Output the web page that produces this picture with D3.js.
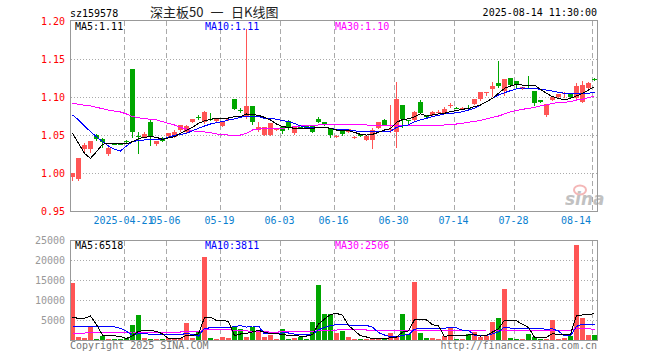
<!DOCTYPE html>
<html><head><meta charset="utf-8">
<script src="https://cdn.jsdelivr.net/npm/d3@7"></script>
<style>body{margin:0;background:#fff}svg{display:block}</style>
</head><body><svg id="c" width="660" height="360"></svg>
<script>
const dates = ["2025-04-09","2025-04-10","2025-04-11","2025-04-14","2025-04-15","2025-04-16","2025-04-17","2025-04-18","2025-04-21","2025-04-22","2025-04-23","2025-04-24","2025-04-25","2025-04-28","2025-04-29","2025-04-30",
"2025-05-06","2025-05-07","2025-05-08","2025-05-09","2025-05-12","2025-05-13","2025-05-14","2025-05-15","2025-05-16","2025-05-19","2025-05-20","2025-05-21","2025-05-22","2025-05-23","2025-05-26","2025-05-27","2025-05-28","2025-05-29","2025-05-30",
"2025-06-03","2025-06-04","2025-06-05","2025-06-06","2025-06-09","2025-06-10","2025-06-11","2025-06-12","2025-06-13","2025-06-16","2025-06-17","2025-06-18","2025-06-19","2025-06-20","2025-06-23","2025-06-24","2025-06-25","2025-06-26","2025-06-27","2025-06-30",
"2025-07-01","2025-07-02","2025-07-03","2025-07-04","2025-07-07","2025-07-08","2025-07-09","2025-07-10","2025-07-11","2025-07-14","2025-07-15","2025-07-16","2025-07-17","2025-07-18","2025-07-21","2025-07-22","2025-07-23","2025-07-24","2025-07-25","2025-07-28","2025-07-29","2025-07-30","2025-07-31",
"2025-08-01","2025-08-04","2025-08-05","2025-08-06","2025-08-07","2025-08-08","2025-08-11","2025-08-12","2025-08-13","2025-08-14"];

const open = [0.9956,0.9925,1.0316,1.0325,1.0500,1.0452,1.0254,1.0392,1.0390,1.0420,
1.1373,1.0495,1.0482,1.0680,1.0382,1.0470,1.0496,1.0482,1.0570,1.0548,
1.0675,1.0740,1.0680,1.0718,1.0689,1.0623,1.0702,1.0978,1.0835,1.0737,
1.0886,1.0570,1.0504,1.0504,1.0570,1.0605,1.0684,1.0535,1.0607,1.0623,
1.0623,1.0719,1.0675,1.0579,1.0494,1.0561,1.0544,1.0476,1.0513,1.0445,
1.0439,1.0601,1.0702,1.0580,1.0548,1.0899,1.0700,1.0702,1.0934,1.0768,
1.0763,1.0809,1.0798,1.0897,1.0866,1.0862,1.0866,1.0912,1.0974,1.1053,
1.1110,1.1189,1.1088,1.1254,1.1215,1.1110,1.1164,1.1083,1.0961,1.0768,
1.0965,1.1000,1.1051,1.1044,1.0996,1.0943,1.1127,1.1240];
const high = [1.0000,1.0202,1.0395,1.0425,1.0513,1.0460,1.0350,1.0400,1.0400,1.0439,
1.1373,1.0548,1.0540,1.0702,1.0430,1.0480,1.0530,1.0570,1.0640,1.0630,
1.0720,1.0763,1.0825,1.0794,1.0730,1.0680,1.0720,1.0980,1.0855,1.1899,
1.0886,1.0680,1.0615,1.0667,1.0600,1.0610,1.0702,1.0610,1.0615,1.0630,
1.0630,1.0746,1.0680,1.0580,1.0504,1.0566,1.0585,1.0490,1.0520,1.0510,
1.0595,1.0680,1.0710,1.0899,1.1200,1.0900,1.0702,1.0820,1.0965,1.0770,
1.0820,1.0833,1.0877,1.0930,1.0868,1.0868,1.0895,1.0980,1.1075,1.1070,
1.1206,1.1482,1.1245,1.1260,1.1220,1.1140,1.1281,1.1083,1.0965,1.0910,
1.1010,1.1050,1.1075,1.1050,1.1193,1.1215,1.1197,1.1250];
const low = [0.9912,0.9912,1.0298,1.0285,1.0439,1.0340,1.0241,1.0380,1.0382,1.0395,
1.0482,1.0263,1.0474,1.0373,1.0370,1.0425,1.0490,1.0480,1.0560,1.0540,
1.0670,1.0710,1.0667,1.0702,1.0680,1.0620,1.0700,1.0840,1.0811,1.0724,
1.0645,1.0560,1.0500,1.0500,1.0565,1.0526,1.0579,1.0522,1.0595,1.0595,
1.0540,1.0675,1.0640,1.0474,1.0482,1.0510,1.0540,1.0465,1.0490,1.0440,
1.0338,1.0600,1.0630,1.0548,1.0351,1.0605,1.0649,1.0700,1.0790,1.0730,
1.0760,1.0790,1.0790,1.0877,1.0860,1.0860,1.0855,1.0910,1.0960,1.1031,
1.1018,1.1140,1.1031,1.1160,1.1140,1.1105,1.1140,1.0899,1.0940,1.0754,
1.0960,1.0995,1.1009,1.1000,1.0987,1.0934,1.1120,1.1224];
const close = [1.0000,1.0202,1.0373,1.0425,1.0447,1.0417,1.0338,1.0390,1.0388,1.0415,
1.0540,1.0490,1.0522,1.0474,1.0425,1.0430,1.0526,1.0548,1.0636,1.0623,
1.0715,1.0737,1.0811,1.0715,1.0719,1.0671,1.0715,1.0846,1.0833,1.0886,
1.0680,1.0605,1.0605,1.0658,1.0596,1.0561,1.0605,1.0605,1.0603,1.0601,
1.0544,1.0680,1.0649,1.0504,1.0496,1.0518,1.0579,1.0478,1.0496,1.0497,
1.0575,1.0675,1.0636,1.0582,1.0974,1.0710,1.0697,1.0805,1.0798,1.0737,
1.0805,1.0811,1.0846,1.0899,1.0864,1.0866,1.0862,1.0978,1.1070,1.1066,
1.1149,1.1149,1.1241,1.1162,1.1162,1.1136,1.1160,1.0921,1.0943,1.0908,
1.1009,1.1044,1.1053,1.1009,1.1149,1.1162,1.1184,1.1237];
const volume = [14333,833,583,3333,250,1000,333,250,250,583,
3750,6250,583,250,250,250,417,417,417,4250,
583,2083,20833,583,333,833,417,3167,2750,833,
3167,2083,833,1250,333,2750,333,583,667,250,
4500,13750,6583,6583,1833,2250,750,250,250,250,
250,250,417,1833,833,6583,1583,14583,1833,583,
583,250,1083,3250,250,250,1583,2000,833,1000,
4583,5583,12833,583,333,333,1500,833,333,333,
5000,333,583,1000,23833,5583,1333,1333];

const ma5 = [1.0526,1.0395,1.0263,1.0197,1.0285,1.0382,1.0395,1.0395,1.0395,1.0386,
1.0417,1.0456,1.0474,1.0482,1.0474,1.0447,1.0465,1.0482,1.0526,1.0566,
1.0605,1.0658,1.0689,1.0711,1.0728,1.0728,1.0728,1.0746,1.0746,1.0781,
1.0776,1.0763,1.0737,1.0702,1.0649,1.0614,1.0605,1.0592,1.0592,1.0592,
1.0592,1.0605,1.0605,1.0592,1.0570,1.0570,1.0561,1.0539,1.0513,1.0504,
1.0513,1.0539,1.0570,1.0588,1.0670,1.0708,1.0717,1.0745,1.0785,1.0752,
1.0768,1.0781,1.0790,1.0811,1.0825,1.0842,1.0855,1.0877,1.0899,1.0943,
1.0987,1.1053,1.1118,1.1149,1.1171,1.1162,1.1162,1.1162,1.1105,1.1053,
1.1009,1.0987,1.0965,1.0987,1.1018,1.1053,1.1096,1.1140];
const ma10 = [1.0768,1.0702,1.0623,1.0548,1.0482,1.0417,1.0360,1.0316,1.0294,1.0360,
1.0417,1.0430,1.0439,1.0439,1.0439,1.0447,1.0474,1.0500,1.0513,1.0526,
1.0561,1.0592,1.0623,1.0649,1.0667,1.0680,1.0702,1.0715,1.0737,1.0754,
1.0754,1.0750,1.0724,1.0724,1.0711,1.0693,1.0680,1.0658,1.0623,1.0605,
1.0605,1.0605,1.0605,1.0588,1.0579,1.0575,1.0570,1.0561,1.0544,1.0544,
1.0544,1.0544,1.0548,1.0553,1.0605,1.0623,1.0636,1.0680,1.0702,1.0724,
1.0746,1.0763,1.0781,1.0789,1.0798,1.0811,1.0833,1.0855,1.0899,1.0943,
1.0987,1.1031,1.1061,1.1088,1.1110,1.1123,1.1118,1.1118,1.1105,1.1096,
1.1083,1.1066,1.1053,1.1044,1.1044,1.1044,1.1053,1.1066];
const ma30 = [1.0921,1.0908,1.0895,1.0886,1.0868,1.0851,1.0833,1.0820,1.0807,1.0781,
1.0746,1.0732,1.0719,1.0711,1.0702,1.0680,1.0658,1.0636,1.0605,1.0579,
1.0561,1.0548,1.0544,1.0535,1.0518,1.0509,1.0504,1.0504,1.0504,1.0526,
1.0570,1.0583,1.0588,1.0592,1.0592,1.0592,1.0601,1.0614,1.0623,1.0623,
1.0632,1.0636,1.0640,1.0640,1.0640,1.0640,1.0640,1.0640,1.0636,1.0636,
1.0632,1.0632,1.0623,1.0623,1.0627,1.0632,1.0632,1.0627,1.0623,1.0623,
1.0627,1.0632,1.0636,1.0640,1.0649,1.0658,1.0671,1.0684,1.0697,1.0715,
1.0737,1.0754,1.0781,1.0811,1.0825,1.0842,1.0855,1.0868,1.0886,1.0899,
1.0921,1.0930,1.0934,1.0943,1.0965,1.0974,1.0996,1.1018];

const vma5 = [5667,5417,5417,6000,3866,1200,1100,1033,900,400,
1033,2217,2283,2283,2217,1517,350,350,400,1150,
1150,1550,5616,5666,4883,4933,4600,1067,1500,1600,
2067,2400,1933,1633,1533,1450,1100,1050,983,983,
1350,4000,5217,6350,6650,6200,3600,2333,1067,750,
350,250,283,600,717,1983,2250,5083,5083,5017,
3833,3567,867,1150,1083,1017,1283,1467,983,1133,
1983,2800,4966,4916,4783,3933,3116,716,666,666,
1600,1366,1316,1450,6150,6266,6466,6518];
const vma10 = [3500,3500,3480,3450,3450,3400,3400,3300,2900,2200,
1117,1658,1658,1350,1350,1275,1283,1300,1317,1683,
1367,950,2975,3008,3017,3075,3075,3350,3583,3241,
3500,3500,1500,1567,1567,1758,1750,1492,1300,1250,
1391,2558,3125,3650,3800,3758,3750,3700,3650,3650,
3200,1850,1250,850,780,1200,1300,2700,2850,2880,
2900,2900,2960,3100,3050,2420,2420,1170,1080,1130,
1530,2050,3233,2958,2958,2958,2958,2841,2791,2725,
2766,2241,1016,1058,3408,3933,3916,3811];
const vma30 = [1700,1700,1720,1900,1900,1900,1910,1910,1920,1920,
2000,2000,2000,2000,2000,2000,2000,2000,2000,2050,
2050,2050,2600,2620,2620,2620,2600,2400,2350,2367,
1994,2036,2044,1975,1978,2036,2036,2047,2067,2058,
2086,2336,2450,2500,2500,2520,2520,2520,2510,2500,
2500,2480,2300,2300,2300,2350,2350,2450,2450,2450,
2430,2420,2420,2450,2450,2420,2450,2480,2480,2500,
2500,2420,2500,2450,2420,2400,2400,2400,2400,2400,
2450,2450,2450,2450,2900,2880,2880,2506];

const priceTicks = [0.95,1.00,1.05,1.10,1.15,1.20];
const volTicks = [5000,10000,15000,20000,25000];
const tickDates = ["2025-04-22","2025-05-06","2025-05-19","2025-06-03","2025-06-16","2025-06-30","2025-07-14","2025-07-28","2025-08-14"];
const tickLabels = ["2025-04-21","05-06","05-19","06-03","06-16","06-30","07-14","07-28","08-14"];
const titleParts = ["深主板50","一","日K线图"];

const MONO = "'DejaVu Sans Mono','Liberation Mono',monospace";
const CJK = "'Noto Sans CJK SC',sans-serif";
const RED = "#ff5555", GREEN = "#00a600";
const svg = d3.select("#c");
svg.append("rect").attr("width",660).attr("height",360).attr("fill","#fff");

const L = 70, R = 597, T1 = 20, B1 = 211, T2 = 240, B2 = 340;
const x = d3.scaleBand().domain(dates).range([L, L + 6*dates.length]).padding(0);
const y = d3.scaleLinear().domain([0.95,1.20]).range([211.33, 21.33]);
const yv = d3.scaleLinear().domain([0,25000]).range([B2, T2]);
const cx = d => x(d) + 2.5;
const bw = x.bandwidth() - 1;

const defs = svg.append("defs");
defs.append("clipPath").attr("id","c1").append("rect").attr("x",L).attr("y",T1).attr("width",R-L).attr("height",B1-T1);
defs.append("clipPath").attr("id","c2").append("rect").attr("x",L).attr("y",T2).attr("width",R-L).attr("height",B2-T2);

// header
svg.append("text").attr("x",70).attr("y",17).attr("font-family",MONO).attr("font-size",10).attr("fill","#000").text("sz159578");
[[150,titleParts[0]],[210.5,titleParts[1]],[231,titleParts[2]]].forEach(([xx,t])=>
  svg.append("text").attr("x",xx).attr("y",17).attr("font-family",CJK).attr("font-size",13).attr("fill","#222").text(t));
svg.append("text").attr("x",597).attr("y",16).attr("text-anchor","end").attr("font-family",MONO).attr("font-size",10).attr("fill","#000").text("2025-08-14 11:30:00");

// grids
const g = svg.append("g").attr("shape-rendering","crispEdges");
g.selectAll(".hg").data(priceTicks.filter(v=>v>0.95 && v<1.20)).join("line")
  .attr("x1",L+1).attr("x2",R).attr("y1",v=>Math.round(y(v))+0.5).attr("y2",v=>Math.round(y(v))+0.5)
  .attr("stroke","#aaa").attr("stroke-dasharray","1,2");
g.selectAll(".vg").data(volTicks.filter(v=>v<25000)).join("line")
  .attr("x1",L+1).attr("x2",R).attr("y1",v=>Math.round(yv(v))+0.5).attr("y2",v=>Math.round(yv(v))+0.5)
  .attr("stroke","#aaa").attr("stroke-dasharray","1,2");
tickDates.forEach(d=>{
  const xx = x(d)+0.5;
  g.append("line").attr("x1",xx).attr("x2",xx).attr("y1",T1+1).attr("y2",B1).attr("stroke","#aaa").attr("stroke-dasharray","5,3");
  g.append("line").attr("x1",xx).attr("x2",xx).attr("y1",T2+1).attr("y2",B2).attr("stroke","#aaa").attr("stroke-dasharray","5,3");
});

// y labels
svg.selectAll(".pl").data(priceTicks).join("text")
  .attr("x",65).attr("y",v=>y(v)).attr("dy","0.35em").attr("text-anchor","end")
  .attr("font-family",MONO).attr("font-size",10).attr("fill","#f00").text(d3.format(".2f"));
svg.selectAll(".vl").data(volTicks).join("text")
  .attr("x",65).attr("y",v=>yv(v)).attr("dy","0.35em").attr("text-anchor","end")
  .attr("font-family",MONO).attr("font-size",10).attr("fill","#999").text(d=>d);

// x labels
tickDates.forEach((d,i)=>{
  const last = i===tickDates.length-1;
  svg.append("text").attr("x", last ? x(d)-1 : x(d)-0.5).attr("y",224)
    .attr("text-anchor", last ? "end" : "middle")
    .attr("font-family",MONO).attr("font-size",10).attr("fill","#0b7fd0").text(tickLabels[i]);
});

// watermark
const wm = svg.append("g").attr("opacity",0.6);
wm.append("ellipse").attr("cx",580).attr("cy",190).attr("rx",6).attr("ry",4.5).attr("fill","none").attr("stroke","#e88").attr("stroke-width",2);
wm.append("text").attr("x",565).attr("y",205).attr("font-family","'DejaVu Sans',sans-serif").attr("font-style","italic").attr("font-weight","bold").attr("font-size",17).attr("fill","#999").text("sina");

// candles
const cg = svg.append("g").attr("clip-path","url(#c1)").attr("shape-rendering","crispEdges");
dates.forEach((d,i)=>{
  const up = close[i] >= open[i];
  const col = up ? RED : GREEN;
  cg.append("line").attr("x1",cx(d)).attr("x2",cx(d))
    .attr("y1",Math.round(y(high[i]))).attr("y2",Math.round(y(low[i]))+1).attr("stroke",col);
  const yt = Math.round(y(Math.max(open[i],close[i])));
  const yb = Math.round(y(Math.min(open[i],close[i])));
  cg.append("rect").attr("x",x(d)).attr("y",yt).attr("width",bw).attr("height",Math.max(1,yb-yt)).attr("fill",col);
});

// volume bars
const vg = svg.append("g").attr("clip-path","url(#c2)").attr("shape-rendering","crispEdges");
vg.selectAll("rect").data(dates).join("rect")
  .attr("x",d=>x(d)).attr("width",bw)
  .attr("y",(d,i)=>Math.round(yv(volume[i])))
  .attr("height",(d,i)=>B2-Math.round(yv(volume[i])))
  .attr("fill",(d,i)=> close[i]>=open[i] ? RED : GREEN);

// MA lines
const lineP = d3.line().x((v,i)=>cx(dates[i])).y(v=>y(v));
const lineV = d3.line().x((v,i)=>cx(dates[i])).y(v=>yv(v));
const mg = svg.append("g").attr("clip-path","url(#c1)").attr("fill","none").attr("shape-rendering","crispEdges");
[[ma30,"#ff00ff"],[ma10,"#0000ff"],[ma5,"#000"]].forEach(([a,c])=>mg.append("path").attr("d",lineP(a)).attr("stroke",c).attr("stroke-width",1));
const mg2 = svg.append("g").attr("clip-path","url(#c2)").attr("fill","none").attr("shape-rendering","crispEdges");
[[vma30,"#ff00ff"],[vma10,"#0000ff"],[vma5,"#000"]].forEach(([a,c])=>mg2.append("path").attr("d",lineV(a)).attr("stroke",c).attr("stroke-width",1));

// frames
const fg = svg.append("g").attr("shape-rendering","crispEdges").attr("fill","none").attr("stroke","#999");
fg.append("rect").attr("x",L+0.5).attr("y",T1+0.5).attr("width",R-L).attr("height",B1-T1);
fg.append("rect").attr("x",L+0.5).attr("y",T2+0.5).attr("width",R-L).attr("height",B2-T2);

// MA labels
const n = dates.length-1;
const f2 = d3.format(".2f");
const lab = (xx,yy,txt,c)=>svg.append("text").attr("x",xx).attr("y",yy).attr("font-family",MONO).attr("font-size",10).attr("fill",c).text(txt);
lab(75,30,"MA5:"+f2(ma5[n]),"#000");
lab(205,30,"MA10:"+f2(ma10[n]),"#0000ff");
lab(335,30,"MA30:"+f2(ma30[n]),"#ff00ff");
lab(75,249,"MA5:"+Math.round(vma5[n]),"#000");
lab(205,249,"MA10:"+Math.round(vma10[n]),"#0000ff");
lab(335,249,"MA30:"+Math.round(vma30[n]),"#ff00ff");

// footer
svg.append("text").attr("x",70).attr("y",349).attr("font-family",MONO).attr("font-size",10).attr("fill","#777").text("Copyright 2025 SINA.COM");
svg.append("text").attr("x",597).attr("y",349).attr("text-anchor","end").attr("font-family",MONO).attr("font-size",10).attr("fill","#777").text("http://finance.sina.com.cn");
</script></body></html>
